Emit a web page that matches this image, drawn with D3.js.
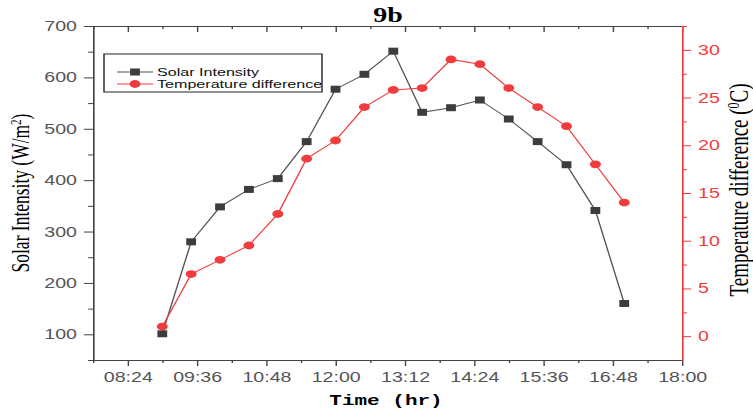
<!DOCTYPE html>
<html>
<head>
<meta charset="utf-8">
<script src="https://cdn.jsdelivr.net/npm/d3@7"></script>
<style>
  body { margin: 0; background: #fff; }
  svg { display: block; }
</style>
</head>
<body>
<div id="chart"></div>
<script>
// Chart data
const times = ["09:00", "09:30", "10:00", "10:30", "11:00", "11:30", "12:00", "12:30", "13:00",
  "13:30", "14:00", "14:30", "15:00", "15:30", "16:00", "16:30", "17:00"];
const solarIntensity = [101, 280, 348, 382, 403, 475, 577, 606, 651, 532, 541, 556, 519, 475, 430, 341, 160];
const tempDifference = [1, 6.5, 8, 9.5, 12.8, 18.6, 20.5, 24, 25.8, 26, 29, 28.5, 26, 24, 22, 18, 14];

const timeTicks = ["08:24", "09:36", "10:48", "12:00", "13:12", "14:24", "15:36", "16:48", "18:00"];
const leftTicks = [100, 200, 300, 400, 500, 600, 700];
const rightTicks = [0, 5, 10, 15, 20, 25, 30];
const seriesNames = ["Solar Intensity", "Temperature difference"];

// The reference is stretched sideways, so draw in a narrower box and let the viewBox stretch it
const width = 753;
const height = 414;
const stretch = 1.4;
const vw = width / stretch;
const margin = { top: 26, right: vw - 682 / stretch, bottom: height - 360, left: 93 / stretch };

const parseTime = d3.timeParse("%H:%M");
const fmtTime = d3.timeFormat("%H:%M");
const grey = "#444";
const red = "#f03c3c";

const svg = d3.select("#chart")
  .append("svg")
  .attr("width", width)
  .attr("height", height)
  .attr("viewBox", `0 0 ${vw} ${height}`)
  .attr("preserveAspectRatio", "none");

const x = d3.scaleTime()
  .domain([parseTime("07:48"), parseTime("18:00")])
  .range([margin.left, vw - margin.right]);

const yLeft = d3.scaleLinear()
  .domain([50, 700])
  .range([height - margin.bottom, margin.top]);

const yRight = d3.scaleLinear()
  .domain([-2.5, 32.5])
  .range([height - margin.bottom, margin.top]);

const majorTimes = timeTicks.map(parseTime);
// minor ticks sit half way between the labelled ones
const minorTimes = majorTimes.map((d) => new Date(d.getTime() - 36 * 60000));

function styleAxis(g, color) {
  g.select(".domain").attr("stroke", color).attr("stroke-width", 1);
  g.selectAll(".tick line").attr("stroke", color).attr("stroke-width", 1);
  g.selectAll("text")
    .attr("fill", color === grey ? "#555" : color)
    .style("font-family", "'Liberation Sans', Arial, sans-serif")
    .style("font-size", "14px");
}

// Bottom axis
const bottomAxis = svg.append("g")
  .attr("transform", `translate(0, ${height - margin.bottom})`);
bottomAxis.append("g")
  .call(d3.axisBottom(x).tickValues(majorTimes).tickFormat(fmtTime).tickSize(6).tickPadding(6).tickSizeOuter(0))
  .call(styleAxis, grey);
bottomAxis.append("g")
  .call(d3.axisBottom(x).tickValues(minorTimes).tickFormat("").tickSize(3).tickSizeOuter(0))
  .call(styleAxis, grey);

// Top axis, ticks point inwards
const topAxis = svg.append("g")
  .attr("transform", `translate(0, ${margin.top})`);
topAxis.append("g")
  .call(d3.axisTop(x).tickValues(majorTimes).tickFormat("").tickSize(-6).tickSizeOuter(0))
  .call(styleAxis, grey);
topAxis.append("g")
  .call(d3.axisTop(x).tickValues(minorTimes).tickFormat("").tickSize(-3).tickSizeOuter(0))
  .call(styleAxis, grey);

// Left axis
const leftAxis = svg.append("g")
  .attr("transform", `translate(${margin.left}, 0)`);
leftAxis.append("g")
  .call(d3.axisLeft(yLeft).tickValues(leftTicks).tickSize(6.5).tickPadding(5).tickSizeOuter(0))
  .call(styleAxis, grey);
leftAxis.append("g")
  .call(d3.axisLeft(yLeft).tickValues(leftTicks.map((v) => v - 50)).tickFormat("").tickSize(3.5).tickSizeOuter(0))
  .call(styleAxis, grey);

// Right axis (red)
const rightAxis = svg.append("g")
  .attr("transform", `translate(${vw - margin.right}, 0)`);
rightAxis.append("g")
  .call(d3.axisRight(yRight).tickValues(rightTicks).tickSize(6.5).tickPadding(5).tickSizeOuter(0))
  .call(styleAxis, red);
rightAxis.append("g")
  .call(d3.axisRight(yRight).tickValues(rightTicks.map((v) => v + 2.5)).tickFormat("").tickSize(3.5).tickSizeOuter(0))
  .call(styleAxis, red);

// Lines
const solarLine = d3.line()
  .x((d, i) => x(parseTime(times[i])))
  .y((d) => yLeft(d));
const tempLine = d3.line()
  .x((d, i) => x(parseTime(times[i])))
  .y((d) => yRight(d));

svg.append("path")
  .datum(solarIntensity)
  .attr("d", solarLine)
  .attr("fill", "none")
  .attr("stroke", "#555")
  .attr("stroke-width", 1);

svg.append("path")
  .datum(tempDifference)
  .attr("d", tempLine)
  .attr("fill", "none")
  .attr("stroke", red)
  .attr("stroke-width", 1);

// Markers
const sq = 7;
svg.selectAll(".solar")
  .data(solarIntensity)
  .enter()
  .append("rect")
  .attr("x", (d, i) => x(parseTime(times[i])) - sq / 2)
  .attr("y", (d) => yLeft(d) - sq / 2)
  .attr("width", sq)
  .attr("height", sq)
  .attr("fill", "#3d3d3d");

svg.selectAll(".temp")
  .data(tempDifference)
  .enter()
  .append("circle")
  .attr("cx", (d, i) => x(parseTime(times[i])))
  .attr("cy", (d) => yRight(d))
  .attr("r", 3.9)
  .attr("fill", red);

// Legend
const lg = svg.append("g");
lg.append("rect")
  .attr("x", 104 / stretch)
  .attr("y", 54)
  .attr("width", 218 / stretch)
  .attr("height", 38)
  .attr("fill", "#fff")
  .attr("stroke", "#222")
  .attr("stroke-width", 1);

seriesNames.forEach((name, i) => {
  const cy = 72 + i * 12;
  const x0 = 117 / stretch, x1 = 153 / stretch, xm = 135 / stretch;
  const col = i === 0 ? "#555" : red;
  lg.append("line")
    .attr("x1", x0).attr("x2", x1)
    .attr("y1", cy).attr("y2", cy)
    .attr("stroke", col);
  if (i === 0) {
    lg.append("rect")
      .attr("x", xm - sq / 2).attr("y", cy - sq / 2)
      .attr("width", sq).attr("height", sq)
      .attr("fill", "#3d3d3d");
  } else {
    lg.append("circle")
      .attr("cx", xm).attr("cy", cy).attr("r", 3.9)
      .attr("fill", red);
  }
  lg.append("text")
    .attr("x", 157 / stretch)
    .attr("y", cy + 4)
    .attr("fill", "#111")
    .style("font-family", "'Liberation Sans', Arial, sans-serif")
    .style("font-size", "11.5px")
    .text(name);
});

// Title
svg.append("text")
  .attr("x", 388 / stretch)
  .attr("y", 22)
  .attr("text-anchor", "middle")
  .style("font-family", "'Liberation Serif', 'Times New Roman', serif")
  .style("font-weight", "bold")
  .style("font-size", "20px")
  .text("9b");

// X axis title
svg.append("text")
  .attr("x", 386 / stretch)
  .attr("y", 405)
  .attr("text-anchor", "middle")
  .style("font-family", "'Liberation Mono', 'Courier New', monospace")
  .style("font-weight", "bold")
  .style("font-size", "15px")
  .text("Time (hr)");

// Left Y axis title
const yl = svg.append("text")
  .attr("transform", `translate(${29 / stretch}, 193) rotate(-90)`)
  .attr("text-anchor", "middle")
  .style("font-family", "'Liberation Serif', 'Times New Roman', serif")
  .style("font-size", "17.5px");
yl.append("tspan").text("Solar Intensity (W/m");
yl.append("tspan").attr("baseline-shift", "super").style("font-size", "11px").text("2");
yl.append("tspan").text(")");

// Right Y axis title
const yr = svg.append("text")
  .attr("transform", `translate(${748 / stretch}, 190) rotate(-90)`)
  .attr("text-anchor", "middle")
  .style("font-family", "'Liberation Serif', 'Times New Roman', serif")
  .style("font-size", "19px");
yr.append("tspan").text("Temperature difference (");
yr.append("tspan").attr("baseline-shift", "super").style("font-size", "12px").text("0");
yr.append("tspan").text("C)");
</script>
</body>
</html>
